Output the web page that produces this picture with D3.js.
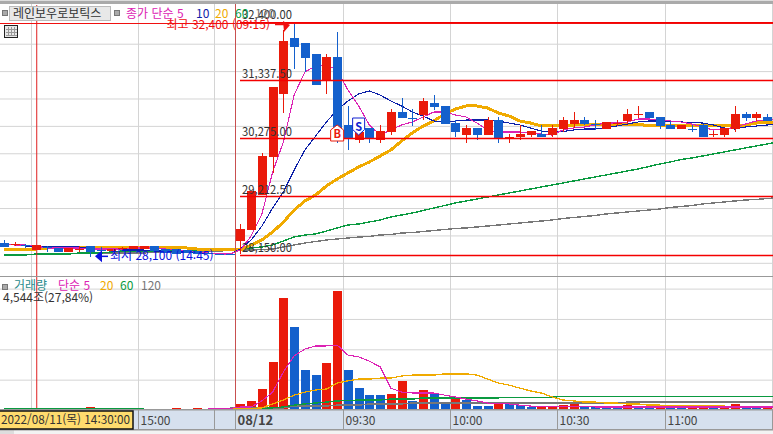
<!DOCTYPE html>
<html lang="ko">
<head>
<meta charset="utf-8">
<title>레인보우로보틱스</title>
<script src="https://cdn.jsdelivr.net/npm/d3@7/dist/d3.min.js"></script>
<style>
html,body{margin:0;padding:0;background:#fff;overflow:hidden}
svg{display:block}
text{font-family:"Noto Sans CJK KR","Noto Sans",sans-serif;font-size:12px}
.grid line{stroke:#d4d4d4;stroke-width:1}
.grid path{display:none}
.ma{fill:none;shape-rendering:crispEdges}
</style>
</head>
<body>
<svg id="chart" width="773" height="434"></svg>
<script>
// 3-minute bars, index 0 is the 09:00 bar of 08/12, negatives are the prior session.
const firstIndex = -22;
const openP = [28362,28344,28325,28234,28289,28271,28198,28252,28307,28239,28216,28271,28252,28252,28307,28252,28252,28234,28216,28179,28170,28165,
  28398,28599,29238,29932,31087,32104,32013,31812,31332,31757,30516,30242,30461,30242,30388,30753,30644,30698,30918,30863,30552,30333,30461,30333,30607,30297,30297,30333,30352,30333,30443,30534,30607,30534,30443,30552,30589,30717,30753,30662,30516,30443,30448,30516,30352,30333,30443,30717,30644,30662];
const highP = [28417,28371,28344,28325,28307,28271,28271,28307,28307,28289,28252,28289,28307,28307,28307,28252,28252,28234,28216,28216,28170,28165,
  28709,29311,30005,31210,32250,32400,32013,31812,31812,32214,30863,30425,30461,30516,30808,31009,30808,31009,31064,30863,30607,30516,30461,30662,30662,30352,30516,30406,30516,30516,30662,30753,30662,30607,30571,30607,30808,30863,30753,30662,30589,30516,30516,30534,30406,30461,30863,30753,30753,30717];
const lowP = [28289,28307,28271,28234,28198,28198,28198,28198,28100,28216,28216,28234,28252,28252,28216,28179,28170,28179,28161,28161,28161,28155,
  28155,28599,29238,29645,30741,31538,31484,31246,31082,30193,30060,30187,30187,30187,30333,30644,30498,30607,30790,30534,30297,30187,30242,30333,30187,30187,30242,30297,30297,30297,30388,30461,30516,30425,30443,30498,30534,30644,30644,30443,30443,30443,30388,30297,30297,30297,30388,30589,30589,30589];
const closeP = [28289,28344,28320,28325,28285,28198,28271,28252,28198,28234,28252,28271,28307,28307,28216,28179,28170,28179,28161,28175,28161,28155,
  28617,29311,29950,31210,32050,31945,31739,31246,31757,30370,30260,30388,30260,30406,30753,30644,30634,30954,30845,30534,30388,30461,30333,30607,30255,30297,30352,30406,30297,30461,30607,30607,30534,30528,30571,30552,30717,30717,30644,30498,30443,30516,30443,30297,30352,30461,30717,30644,30717,30589];

// Price moving averages; the last reading belongs to the bar still forming at the right edge
const ma5 = [28344,28325,28325,28307,28271,28271,28271,28271,28252,28252,28252,28252,28271,28271,28271,28252,28234,28216,28198,28179,28161,28161,
  28234,28490,28891,29658,30206,31064,31484,31593,31611,31520,31155,30863,30516,30333,30425,30516,30571,30662,30753,30753,30699,30662,30552,30425,30388,30388,30388,30370,30352,30333,30425,30461,30479,30516,30552,30552,30571,30626,30626,30607,30589,30571,30534,30479,30425,30434,30479,30534,30589,30607,30626];
const ma10 = [null,28325,28307,28307,28289,28289,28289,28289,28271,28252,28252,28234,28234,28234,28216,28216,28198,28198,28179,28179,28161,28161,
  28252,28417,28672,29001,29293,29694,30060,30315,30571,30790,30954,31082,31137,31064,30954,30863,30753,30680,30589,30571,30589,30607,30607,30607,30589,30552,30516,30461,30406,30388,30397,30425,30443,30443,30461,30498,30534,30571,30589,30589,30589,30571,30562,30552,30516,30461,30443,30479,30498,30516,30525];
const ma20 = [28234,28234,28234,28252,28271,28271,28271,28271,28271,28271,28271,28271,28271,28271,28271,28271,28271,28271,28252,28234,28234,28234,
  28234,28325,28417,28562,28745,28964,29129,29238,29402,29530,29640,29749,29841,29950,30060,30224,30370,30498,30589,30717,30808,30863,30863,30826,30735,30680,30589,30552,30498,30498,30498,30516,30534,30534,30534,30534,30534,30534,30498,30498,30498,30498,30498,30498,30498,30498,30507,30516,30552,30562,30571];
const ma60 = [28143,28143,28143,28161,28161,28161,28161,28179,28179,28179,28198,28216,28216,28216,28216,28216,28216,28216,28225,28234,28234,28234,
  28252,28271,28289,28325,28398,28471,28508,28526,28581,28636,28690,28709,28745,28782,28836,28873,28909,28955,29001,29046,29092,29129,29165,29202,29238,29275,29311,29348,29384,29421,29457,29494,29530,29567,29603,29640,29676,29713,29758,29804,29841,29886,29913,29950,29987,30023,30060,30097,30133,30169,30205];
const ma120 = [28143,28143,28143,28161,28161,28161,28161,28179,28179,28179,28179,28179,28179,28179,28198,28198,28198,28198,28216,28216,28216,28225,
  28234,28234,28243,28252,28289,28325,28362,28389,28417,28435,28453,28471,28481,28508,28517,28544,28553,28572,28590,28608,28626,28636,28654,28672,28690,28709,28727,28745,28763,28782,28809,28827,28846,28864,28891,28909,28928,28946,28964,28982,29010,29028,29046,29074,29092,29110,29129,29147,29156,29174,29190];

// Volume bars and their averages, in the panel's own units
const volume = [3,3,3,3,3,3,3,3,10,3,3,3,3,3,3,3,5,3,5,3,3,3,
  20,30,69,158,369,273,132,115,155,392,132,72,49,49,53,96,30,66,53,23,43,33,13,13,20,20,15,10,12,12,16,20,10,10,7,8,16,10,7,13,7,9,9,9,9,13,20,10,7,10];
const volumeUp = [0,0,0,0,0,0,0,0,1,0,0,0,0,0,0,0,1,0,1,0,0,0,
  1,1,1,1,1,0,0,0,1,1,0,0,0,0,1,1,0,1,0,0,1,0,0,0,1,0,0,0,1,1,1,1,0,0,0,0,1,0,0,1,0,0,1,1,0,1,1,0,0,1];
const vma5 = [null,null,null,null,null,null,null,null,null,null,null,null,null,null,null,null,null,null,null,5,5,5,
  10,10,30,59,125,178,201,211,211,214,181,175,161,142,72,59,56,56,56,49,43,36,30,23,20,20,16,13,13,13,13,13,13,10,10,10,10,10,10,10,10,10,10,10,10,10,10,10,10,10,10];
const vma20 = [null,null,null,null,null,null,null,null,null,null,null,null,null,null,null,null,null,null,null,null,null,3,
  3,5,7,20,33,49,59,66,69,89,96,102,102,105,105,112,115,115,115,119,119,119,115,102,89,82,72,63,56,43,33,30,26,26,23,23,20,20,16,16,13,13,13,13,13,13,10,10,10,10,10];
const vma60 = [5,5,5,5,5,5,5,5,5,5,5,5,5,5,null,null,null,null,null,null,null,5,
  5,5,5,7,10,16,20,23,26,30,31,33,33,33,36,36,36,40,40,40,40,40,40,40,40,42,42,42,42,42,45,45,45,45,45,45,45,45,45,45,45,45,45,45,45,45,45,45,45,45,45];
const vma120 = [null,null,null,null,null,null,null,null,null,null,null,null,null,null,null,null,null,null,null,null,null,7,
  7,7,7,7,7,13,13,13,13,16,16,16,20,20,20,20,23,23,23,23,23,23,23,23,23,23,23,23,23,23,23,23,23,23,23,23,26,26,26,26,26,26,26,26,26,26,26,26,26,26,26];

// Price levels and annotations
const levels = [32400, 31337.5, 30275, 29212.5, 28150];
const levelText = ["32,400.00","31,337.50","30,275.00","29,212.50","28,150.00"];
const priceTicks = [32000,31500,31000,30500,30000,29500,29000,28500,28000];
const volumeTicks = [100,200,300,400];
const timeTicks = [-9,0,10,20,30,40];
const timeText = ["15:00","08/12","09:30","10:00","10:30","11:00"];
const plainGrid = [-19,-2,50];
const cursorIndex = -19, cursorPrice = 32372;
const maxIndex = 5, minIndex = -14, buyIndex = 9, sellIndex = 11;

const RED="#ea1a0a", BLUE="#1460cc", MAG="#dc22b4", NAVY="#0c20a8", ORG="#f0aa00", GRN="#0a9a40", GRY="#777777";
const svg = d3.select("#chart");
const allIdx = d3.range(firstIndex, firstIndex + openP.length);
const at = i => i - firstIndex;

const x = d3.scaleLinear().domain([-22,49]).range([4,767]);
const y = d3.scaleLinear().domain([28150,32400]).range([254.6,21.8]);
const yv = d3.scaleLinear().domain([0,400]).range([410,288.6]);
const gx = i => Math.round(x(i-0.5)) + 0.5;

svg.append("rect").attr("width",773).attr("height",434).attr("fill","#fff");

// Horizontal grids
svg.append("g").attr("class","grid").attr("transform","translate(773,0)")
  .call(d3.axisLeft(y).tickValues(priceTicks).tickSize(773).tickFormat(""));
svg.append("g").attr("class","grid").attr("transform","translate(773,0)")
  .call(d3.axisLeft(yv).tickValues(volumeTicks).tickSize(773).tickFormat(""));

// Vertical grid
[...timeTicks.filter(d=>d!==0),...plainGrid].forEach(i=>{
  svg.append("line").attr("x1",gx(i)).attr("x2",gx(i)).attr("y1",4).attr("y2",410).attr("stroke","#d4d4d4");
});

const line = (scale)=>d3.line().defined(d=>d[1]!=null).x(d=>x(d[0])).y(d=>scale(d[1]));
function drawMA(values, color, w, scale){
  svg.append("path").attr("class","ma")
    .attr("d",line(scale)(values.map((v,k)=>[firstIndex+k,v])))
    .attr("stroke",color).attr("stroke-width",w);
}

// Moving averages sit underneath the candles
drawMA(ma120,GRY,1.4,y);
drawMA(ma60,GRN,1.4,y);
drawMA(ma20,ORG,3,y);
drawMA(ma10,NAVY,1.1,y);
drawMA(ma5,MAG,1.1,y);

// Candles
const candles = svg.append("g").attr("shape-rendering","crispEdges");
allIdx.forEach(i=>{
  const k=at(i), up=closeP[k]>=openP[k], c=up?RED:BLUE;
  const top=y(Math.max(openP[k],closeP[k])), bot=y(Math.min(openP[k],closeP[k]));
  const cx=Math.round(x(i));
  candles.append("rect").attr("x",cx).attr("width",1).attr("y",y(highP[k])).attr("height",y(lowP[k])-y(highP[k])).attr("fill",c);
  candles.append("rect").attr("x",cx-4).attr("width",9).attr("y",top).attr("height",Math.max(1,bot-top)).attr("fill",c);
});

// Cursor lines
svg.append("line").attr("x1",x(cursorIndex)+.5).attr("x2",x(cursorIndex)+.5).attr("y1",5).attr("y2",410).attr("stroke","#e02020");
svg.append("line").attr("x1",0).attr("x2",773).attr("y1",Math.round(y(cursorPrice))+.5).attr("y2",Math.round(y(cursorPrice))+.5).attr("stroke","#f01010");
svg.append("line").attr("x1",gx(0)).attr("x2",gx(0)).attr("y1",4).attr("y2",410).attr("stroke","#c85050");

// Retracement levels
levels.forEach(p=>{
  const yy=Math.round(y(p))+.5;
  svg.append("line").attr("x1",240).attr("x2",773).attr("y1",yy).attr("y2",yy).attr("stroke","#f40000").attr("stroke-width",p===32400?1:1.3);
});
levels.forEach((p,k)=>{
  svg.append("text").attr("x",242).attr("y",y(p)-2.5).attr("fill","#333")
    .attr("textLength",50).attr("lengthAdjust","spacingAndGlyphs").text(levelText[k]);
});

// Buy and sell signal flags
const bx=x(buyIndex), by=133;
svg.append("path").attr("d",`M${bx},${by-8}L${bx+6.5},${by-3}V${by+8}H${bx-6.5}V${by-3}Z`).attr("fill","#fff").attr("stroke",RED);
svg.append("text").attr("x",bx).attr("y",by+5).attr("text-anchor","middle").attr("font-weight","bold").attr("fill",RED).style("font-size","11px").text("B");
const sx=x(sellIndex), sy=126.5;
svg.append("path").attr("d",`M${sx-6},${sy-8.5}H${sx+6}V${sy+3}L${sx},${sy+8.5}L${sx-6},${sy+3}Z`).attr("fill","#fff").attr("stroke","#1020d0");
svg.append("text").attr("x",sx).attr("y",sy+4).attr("text-anchor","middle").attr("font-weight","bold").attr("fill","#1020d0").style("font-size","11px").text("S");

// High and low markers
const hy=Math.round(y(32400))+2;
svg.append("text").attr("x",270).attr("y",hy+5).attr("text-anchor","end").attr("fill","#f01010").text("최고 32,400 (09:15)");
svg.append("line").attr("x1",275).attr("x2",284).attr("y1",hy+.5).attr("y2",hy+.5).attr("stroke","#f01010").attr("stroke-width",1.5);
svg.append("path").attr("d",`M283,${hy-3}L290,${hy+1}L284,${hy+8}Z`).attr("fill","#f01010");
const ly=y(28100)-1;
svg.append("line").attr("x1",100).attr("x2",108).attr("y1",ly).attr("y2",ly).attr("stroke","#0a10e0").attr("stroke-width",1.5);
svg.append("path").attr("d",`M${x(minIndex)+5},${ly}L102,${ly-6}V${ly+6}Z`).attr("fill","#0a10e0");
svg.append("text").attr("x",110).attr("y",ly+4).attr("fill","#0a10e0").text("최저 28,100 (14:45)");

// Volume bars with their averages on top
const bars = svg.append("g").attr("shape-rendering","crispEdges");
allIdx.forEach(i=>{
  const k=at(i), t=yv(volume[k]);
  bars.append("rect").attr("x",Math.round(x(i))-4).attr("width",9).attr("y",t).attr("height",410-t).attr("fill",volumeUp[k]?RED:BLUE);
});
drawMA(vma120,GRY,1.4,yv);
drawMA(vma60,GRN,1.4,yv);
drawMA(vma20,ORG,1.3,yv);
drawMA(vma5,MAG,1.1,yv);

// Top frame and header
svg.append("rect").attr("width",773).attr("height",1).attr("fill","#ddd");
svg.append("rect").attr("y",1).attr("width",773).attr("height",3).attr("fill","#aaa");
function chip(xp,yp){svg.append("rect").attr("x",xp+.5).attr("y",yp+.5).attr("width",5).attr("height",5).attr("fill","#aaa").attr("stroke","#777");}
chip(2,10);chip(114,10);
svg.append("rect").attr("x",9.5).attr("y",6.5).attr("width",101).attr("height",14).attr("fill","#e8e8e8").attr("stroke","#bbb");
svg.append("text").attr("x",13).attr("y",18).attr("fill","#333").text("레인보우로보틱스");
[["종가 단순 5",126,MAG],["10",196,NAVY],["20",215,ORG],["60",235,GRN],["120",255,GRY]].forEach(d=>{
  svg.append("text").attr("x",d[1]).attr("y",18).attr("fill",d[2]).text(d[0]);
});
// Table icon
const icon=svg.append("g").attr("shape-rendering","crispEdges");
icon.append("rect").attr("x",4.5).attr("y",25.5).attr("width",13).attr("height",12).attr("fill","#e8e8e8").attr("stroke","#222");
[8,11,14].forEach(v=>icon.append("line").attr("x1",v+.5).attr("x2",v+.5).attr("y1",27).attr("y2",36).attr("stroke","#999"));
[29,32,35].forEach(v=>icon.append("line").attr("x1",6).attr("x2",17).attr("y1",v+.5).attr("y2",v+.5).attr("stroke","#999"));

// Panel divider and volume legend
svg.append("rect").attr("y",276).attr("width",773).attr("height",1).attr("fill","#999");
chip(2,284);
[["거래량",14,"#2a8c8c"],["단순 5",58,MAG],["20",100,ORG],["60",120,GRN],["120",141,GRY]].forEach(d=>{
  svg.append("text").attr("x",d[1]).attr("y",290).attr("fill",d[2]).text(d[0]);
});
svg.append("text").attr("x",3).attr("y",302).attr("fill","#333").text("4,544조(27,84%)");

// Time axis
svg.append("rect").attr("y",410).attr("width",773).attr("height",20).attr("fill","#d6e0ee");
svg.append("rect").attr("y",430).attr("width",773).attr("height",4).attr("fill","#f3f3f3");
svg.append("rect").attr("y",430).attr("width",14).attr("height",4).attr("fill","#ddd");
const timeAxis = d3.axisBottom(d3.scaleLinear().domain(x.domain()).range(x.range()))
  .tickValues(timeTicks).tickSize(0).tickFormat((d,k)=>timeText[k]);
const ax = svg.append("g").attr("transform","translate(0,410)").call(timeAxis);
ax.select(".domain").remove();
ax.selectAll(".tick").attr("transform",d=>`translate(${gx(d)},0)`);
ax.selectAll(".tick text").attr("x",2).attr("y",15).attr("dy",0).attr("text-anchor","start").attr("fill","#444")
  .style("font-size",d=>d===0?"13px":"12px").style("font-weight",d=>d===0?"bold":"normal");
[...timeTicks,...plainGrid].forEach(i=>{
  svg.append("line").attr("x1",gx(i)).attr("x2",gx(i)).attr("y1",410).attr("y2",430).attr("stroke","#999");
});
svg.append("rect").attr("y",409).attr("width",773).attr("height",1.5).attr("fill","#999");
svg.append("rect").attr("y",429).attr("width",773).attr("height",1.5).attr("fill","#999");
svg.append("rect").attr("x",-1).attr("y",411).attr("width",134).attr("height",18).attr("fill","#ffdc6e").attr("stroke","#111").attr("stroke-width",1.5);
svg.append("text").attr("x",1).attr("y",424).attr("fill","#333").style("font-size","12px")
  .attr("textLength",129).attr("lengthAdjust","spacingAndGlyphs").text("2022/08/11(목) 14:30:00");
</script>
</body>
</html>
